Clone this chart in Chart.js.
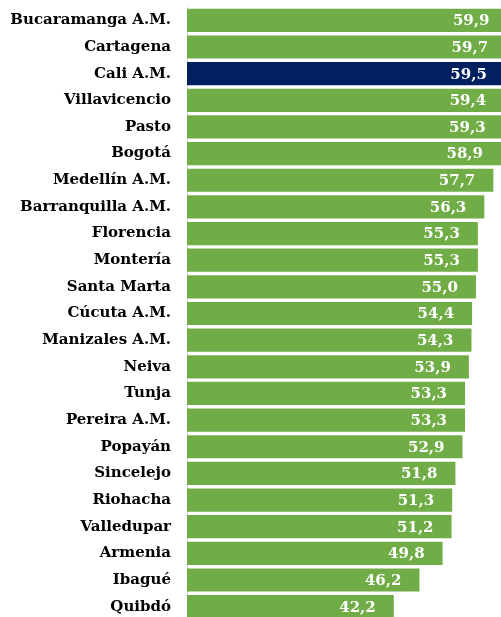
<!DOCTYPE html>
<html>
<head>
<meta charset="utf-8">
<script src="https://cdn.jsdelivr.net/npm/chart.js@4.4.0/dist/chart.umd.min.js"></script>
<style>
  html, body { margin: 0; padding: 0; background: #fff; overflow: hidden; }
  #wrap { width: 501px; height: 621px; }
</style>
</head>
<body>
<div id="wrap"><canvas id="bars" width="501" height="621"></canvas></div>
<script>
// cities, top to bottom
const cities = ["Bucaramanga A.M.", "Cartagena", "Cali A.M.", "Villavicencio", "Pasto", "Bogotá",
  "Medellín A.M.", "Barranquilla A.M.", "Florencia", "Montería", "Santa Marta", "Cúcuta A.M.",
  "Manizales A.M.", "Neiva", "Tunja", "Pereira A.M.", "Popayán", "Sincelejo", "Riohacha",
  "Valledupar", "Armenia", "Ibagué", "Quibdó"];
const values = [59.9, 59.7, 59.5, 59.4, 59.3, 58.9, 57.7, 56.3, 55.3, 55.3, 55.0, 54.4,
  54.3, 53.9, 53.3, 53.3, 52.9, 51.8, 51.3, 51.2, 49.8, 46.2, 42.2];
const highlight = "Cali A.M.";

const green = '#70AD47';
const navy = '#002060';
const labelFont = '"DejaVu Serif", "Liberation Serif", serif';

// white value labels at the inside end of each bar
const valueLabels = {
    id: 'valueLabels',
    afterDatasetsDraw(chart) {
        const ctx = chart.ctx;
        const xs = chart.scales.x;
        const meta = chart.getDatasetMeta(0);
        ctx.save();
        ctx.font = 'bold 15px ' + labelFont;
        ctx.fillStyle = '#ffffff';
        ctx.textAlign = 'right';
        ctx.textBaseline = 'middle';
        meta.data.forEach((bar, i) => {
            let x = xs.getPixelForValue(values[i]) - 18;
            ctx.fillText(values[i].toFixed(1).replace('.', ','), x, bar.y + 1);
        });
        ctx.restore();
    }
};

new Chart(document.getElementById('bars').getContext('2d'), {
    type: 'bar',
    data: {
        labels: cities,
        datasets: [{
            data: values,
            backgroundColor: cities.map(c => c == highlight ? navy : green),
            borderWidth: 0,
            barPercentage: 0.87,
            categoryPercentage: 1.0
        }]
    },
    options: {
        indexAxis: 'y',
        responsive: false,
        animation: false,
        layout: { padding: { top: 7, bottom: 1, left: 0, right: 0 } },
        plugins: {
            legend: { display: false },
            tooltip: { enabled: false }
        },
        scales: {
            x: {
                display: false,
                min: 10,
                max: 58.9
            },
            y: {
                afterFit(scale) {
                    scale.width = 187;
                    // no extra room for half labels at the ends
                    scale.paddingTop = 0;
                    scale.paddingBottom = 0;
                },
                grid: { display: false, drawTicks: false },
                border: { display: true, color: '#d9d9d9', width: 1 },
                ticks: {
                    color: '#000000',
                    padding: 16,
                    font: { family: labelFont, weight: 'bold', size: 15 }
                }
            }
        }
    },
    plugins: [valueLabels]
});
</script>
</body>
</html>
